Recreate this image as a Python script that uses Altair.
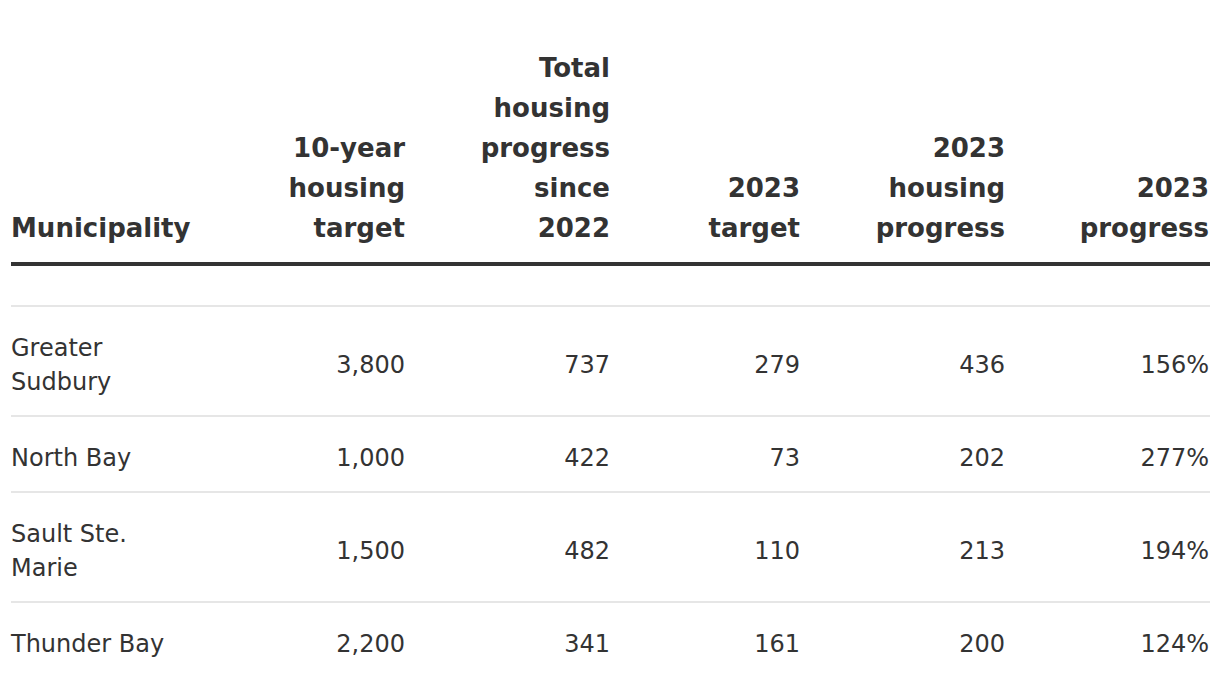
import altair as alt
import pandas as pd

# ---- data ----
headers = [
    "Municipality",
    "10-year\nhousing\ntarget",
    "Total\nhousing\nprogress\nsince\n2022",
    "2023\ntarget",
    "2023\nhousing\nprogress",
    "2023\nprogress",
]
municipality = ["Greater\nSudbury", "North Bay", "Sault Ste.\nMarie", "Thunder Bay"]
ten_year_target = [3800, 1000, 1500, 2200]
total_progress = [737, 422, 482, 341]
target_2023 = [279, 73, 110, 161]
progress_2023 = [436, 202, 213, 200]
pct_2023 = [156, 277, 194, 124]

# ---- layout (chart pixel space) ----
W, H = 1204, 680
FONT = "DejaVu Sans"
INK = "#333333"
col_idx = [0, 1, 2, 3, 4, 5]
col_x = [3, 397, 602, 792, 997, 1201]
HEAD_LH, BODY_LH = 40, 34
HEADER_BOTTOM = 234
THICK_RULE = 256
FIRST_ROW_TOP = 298
PAD = 42

def nlines(s):
    return s.count("\n") + 1

row_tops, row_mids = [], []
top = FIRST_ROW_TOP
for name in municipality:
    h = PAD + BODY_LH * nlines(name)
    row_tops.append(top)
    row_mids.append(top + h / 2 + 5)
    top += h

header_df = pd.DataFrame({
    "col": col_idx,
    "text": headers,
    "y": [HEADER_BOTTOM - (nlines(t) - 1) * HEAD_LH for t in headers],
})

cells = []
for i, name in enumerate(municipality):
    vals = [
        name,
        f"{ten_year_target[i]:,}",
        f"{total_progress[i]:,}",
        f"{target_2023[i]:,}",
        f"{progress_2023[i]:,}",
        f"{pct_2023[i]}%",
    ]
    for k, v in zip(col_idx, vals):
        cells.append({"col": k, "text": v,
                      "y": row_mids[i] - (nlines(v) - 1) * BODY_LH / 2})
body_df = pd.DataFrame(cells)

rules_df = pd.DataFrame({"y": [THICK_RULE] + row_tops,
                         "w": [4] + [2] * len(row_tops),
                         "c": ["thick"] + ["thin"] * len(row_tops)})

xscale = alt.Scale(type="linear", domain=col_idx, range=col_x)
yscale = alt.Scale(domain=[0, H], range=[0, H])

def X():
    return alt.X("col:Q", scale=xscale, axis=None)

def Y():
    return alt.Y("y:Q", scale=yscale, axis=None)

def txt(df, cond, align, baseline, size, weight, lh):
    return alt.Chart(df).transform_filter(cond).mark_text(
        align=align, baseline=baseline, font=FONT, fontSize=size, fontWeight=weight,
        color=INK, lineBreak="\n", lineHeight=lh
    ).encode(x=X(), y=Y(), text="text:N")

head_left = txt(header_df, "datum.col == 0", "left", "bottom", 26, "bold", HEAD_LH)
head_right = txt(header_df, "datum.col != 0", "right", "bottom", 26, "bold", HEAD_LH)
body_left = txt(body_df, "datum.col == 0", "left", "middle", 24, "normal", BODY_LH)
body_right = txt(body_df, "datum.col != 0", "right", "middle", 24, "normal", BODY_LH)

rules = alt.Chart(rules_df).mark_rule().encode(
    x=alt.value(3), x2=alt.value(1202), y=Y(),
    strokeWidth=alt.StrokeWidth("w:Q", scale=None, legend=None),
    color=alt.Color("c:N", scale=alt.Scale(domain=["thick", "thin"], range=[INK, "#e6e6e6"]), legend=None),
)

chart = alt.layer(rules, head_left, head_right, body_left, body_right).properties(
    width=W, height=H, padding=0, background="white",
    autosize=alt.AutoSizeParams(type="none")
).configure_view(strokeWidth=0, stroke="transparent")

chart.save("out.html", embed_options={"renderer": "svg", "actions": False})
